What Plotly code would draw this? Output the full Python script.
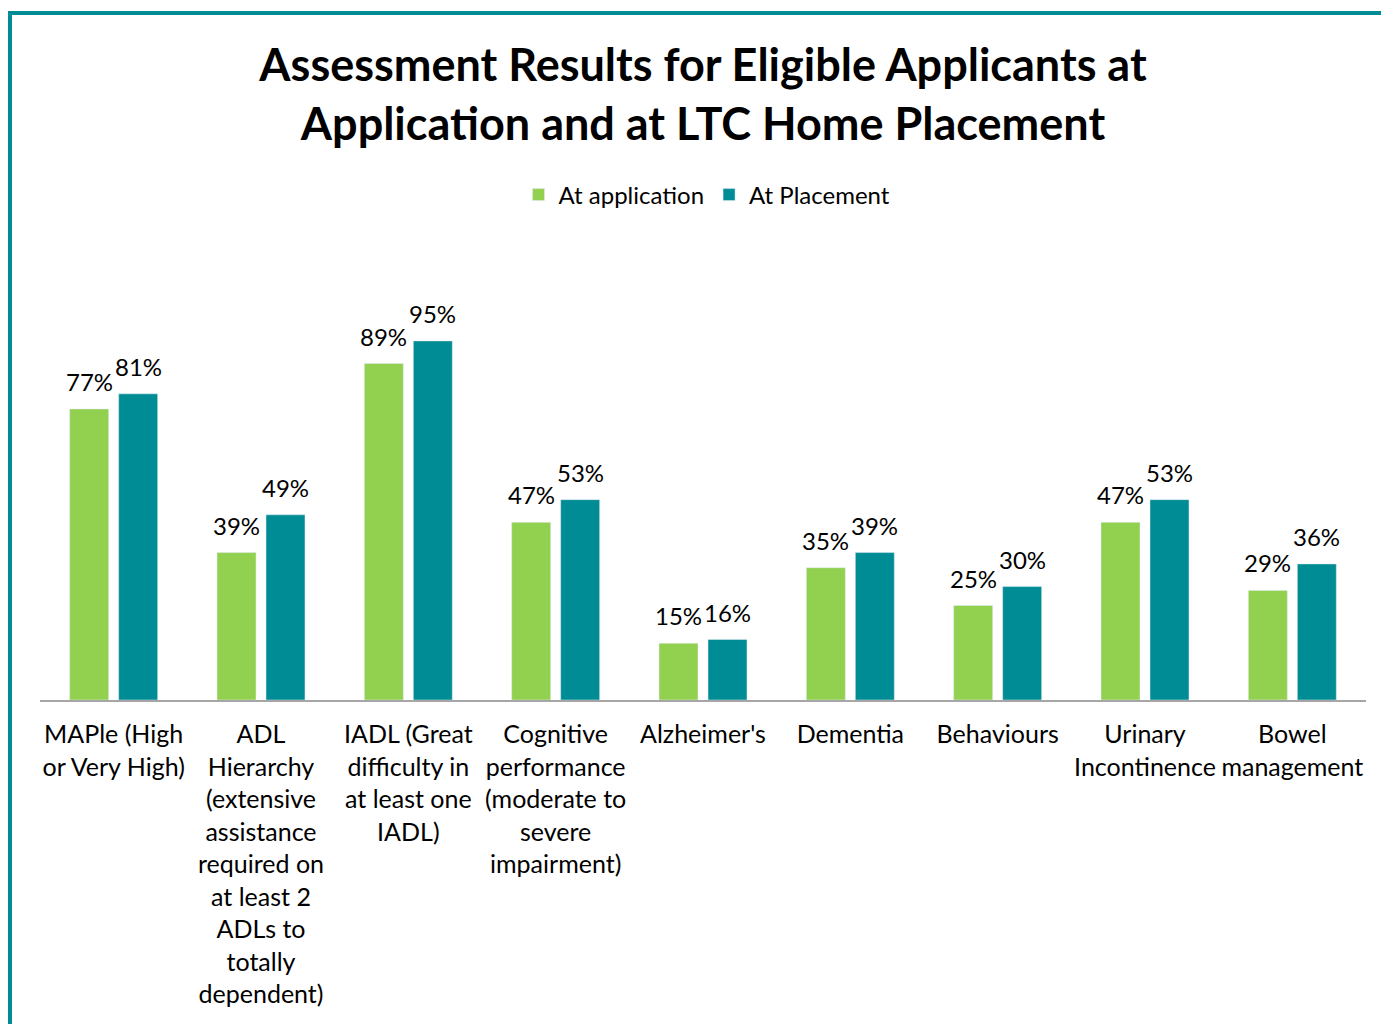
import plotly.graph_objects as go

categories = [
    "MAPle (High<br>or Very High)",
    "ADL<br>Hierarchy<br>(extensive<br>assistance<br>required on<br>at least 2<br>ADLs to<br>totally<br>dependent)",
    "IADL (Great<br>difficulty in<br>at least one<br>IADL)",
    "Cognitive<br>performance<br>(moderate to<br>severe<br>impairment)",
    "Alzheimer's",
    "Dementia",
    "Behaviours",
    "Urinary<br>Incontinence",
    "Bowel<br>management",
]
at_application = [0.77, 0.39, 0.89, 0.47, 0.15, 0.35, 0.25, 0.47, 0.29]
at_placement = [0.81, 0.49, 0.95, 0.53, 0.16, 0.39, 0.30, 0.53, 0.36]

GREEN = "#92D050"
TEAL = "#008C95"
FONT = "Lato"
OFF = 8  # page body margin

fig = go.Figure()
fig.add_trace(go.Bar(x=categories, y=at_application, name="At application",
                     marker_color=GREEN))
fig.add_trace(go.Bar(x=categories, y=at_placement, name="At Placement",
                     marker_color=TEAL))

W, H = 1389, 1024
L = 40 - OFF
T = 322 - OFF
R = W - (1366 - OFF)
B = H - (700 - OFF)
PW = W - L - R
PH = H - T - B
CAT_PX = PW / len(categories)
SHIFT = CAT_PX * (1 - 0.335) / 4  # center offset of each bar in its group

annotations = []
for series, dx in ((at_application, -SHIFT), (at_placement, SHIFT)):
    for c, v in zip(categories, series):
        annotations.append(dict(
            x=c, y=v, xref="x", yref="y", text=f"{v:.0%}", showarrow=False,
            xshift=dx, yshift=11, yanchor="bottom", xanchor="center",
            font=dict(size=24, family=FONT, color="#000000"),
        ))

fig.update_layout(
    width=W, height=H,
    margin=dict(l=L, r=R, t=T, b=B, pad=0),
    paper_bgcolor="white", plot_bgcolor="white",
    barmode="group", bargap=0.335, bargroupgap=0.204,
    font=dict(family=FONT, size=25, color="#000000"),
    title=dict(
        text="<b>Assessment Results for Eligible Applicants at<br>Application and at LTC Home Placement</b>",
        x=(703 - OFF) / W, xanchor="center",
        yref="container", y=1 - (81 - OFF) / H, yanchor="middle",
        font=dict(size=45, family=FONT, color="#000000"),
    ),
    legend=dict(
        orientation="h", xref="container", x=(707 - OFF) / W, xanchor="center",
        yref="container", y=1 - (195 - OFF) / H, yanchor="middle",
        font=dict(size=24, family=FONT), traceorder="normal",
    ),
    xaxis=dict(
        showline=True, linecolor="#A6A6A6", linewidth=2,
        ticks="", showgrid=False, tickfont=dict(size=25, family=FONT),
        tickangle=0, automargin=False, ticklabelstandoff=11,
    ),
    yaxis=dict(range=[0, 1], visible=False, showgrid=False, zeroline=False),
    annotations=annotations,
    shapes=[
        dict(type="line", xref="paper", yref="paper",
             x0=(10 - 40) / PW, x1=(10 - 40) / PW,
             y0=-2, y1=(700 - 13) / PH,
             line=dict(color=TEAL, width=4)),
        dict(type="line", xref="paper", yref="paper",
             x0=(8 - 40) / PW, x1=1.2,
             y0=(700 - 13) / PH, y1=(700 - 13) / PH,
             line=dict(color=TEAL, width=4)),
    ],
)

fig.write_html("out.html")
